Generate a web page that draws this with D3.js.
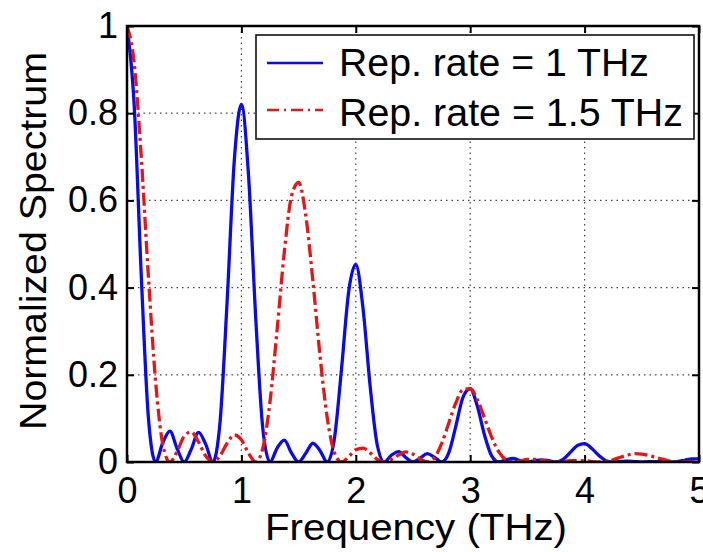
<!DOCTYPE html>
<html>
<head>
<meta charset="utf-8">
<script src="https://cdn.jsdelivr.net/npm/d3@7"></script>
<style>
body {margin: 0; background: #fff;}
svg {display: block;}
text {font-family: "Liberation Sans", Arial, Helvetica, sans-serif; fill: #000;}
</style>
</head>
<body>
<svg id="chart" width="703" height="552"></svg>
<script>
// frequency samples (THz)
var freq = [
	0, 0.0625, 0.125, 0.1875, 0.25, 0.3125, 0.375, 0.4375, 0.5, 0.5625, 0.625, 0.6875, 0.75, 0.8125, 0.875, 0.9375,
	1, 1.0625, 1.125, 1.1875, 1.25, 1.3125, 1.375, 1.4375, 1.5, 1.5625, 1.625, 1.6875, 1.75, 1.8125, 1.875, 1.9375,
	2, 2.0625, 2.125, 2.1875, 2.25, 2.3125, 2.375, 2.4375, 2.5, 2.5625, 2.625, 2.6875, 2.75, 2.8125, 2.875, 2.9375,
	3, 3.0625, 3.125, 3.1875, 3.25, 3.3125, 3.375, 3.4375, 3.5, 3.5625, 3.625, 3.6875, 3.75, 3.8125, 3.875, 3.9375,
	4, 4.0625, 4.125, 4.1875, 4.25, 4.3125, 4.375, 4.4375, 4.5, 4.5625, 4.625, 4.6875, 4.75, 4.8125, 4.875, 4.9375,
	5
];

// Rep. rate = 1 THz
var rep1 = [
	1.000, 0.820, 0.426, 0.100, 0, 0.044, 0.071, 0.031, 0, 0.030, 0.068, 0.041, 0, 0.089, 0.367, 0.690,
	0.820, 0.657, 0.332, 0.076, 0, 0.032, 0.050, 0.021, 0, 0.020, 0.043, 0.026, 0, 0.053, 0.213, 0.390,
	0.453, 0.354, 0.175, 0.039, 0, 0.016, 0.024, 0.010, 0, 0.009, 0.019, 0.011, 0, 0.021, 0.083, 0.149,
	0.168, 0.128, 0.062, 0.014, 0, 0.005, 0.008, 0.003, 0, 0.003, 0.005, 0.003, 0, 0.006, 0.022, 0.038,
	0.042, 0.031, 0.015, 0.003, 0, 0.001, 0.002, 0.001, 0, 0.001, 0.001, 0.001, 0, 0.001, 0.004, 0.007,
	0.007
];

// Rep. rate = 1.5 THz
var rep15 = [
	1.000, 0.916, 0.698, 0.424, 0.185, 0.041, 0, 0.024, 0.059, 0.069, 0.046, 0.014, 0, 0.014, 0.043, 0.062,
	0.051, 0.020, 0, 0.032, 0.138, 0.304, 0.481, 0.609, 0.641, 0.566, 0.415, 0.243, 0.102, 0.022, 0, 0.012,
	0.028, 0.032, 0.021, 0.006, 0, 0.006, 0.016, 0.023, 0.018, 0.007, 0, 0.010, 0.042, 0.089, 0.136, 0.166,
	0.168, 0.143, 0.101, 0.057, 0.023, 0.005, 0, 0.002, 0.006, 0.006, 0.004, 0.001, 0, 0.001, 0.003, 0.003,
	0.003, 0.001, 0, 0.001, 0.005, 0.011, 0.016, 0.019, 0.018, 0.015, 0.010, 0.006, 0.002, 0, 0, 0,
	0
];

var xTicks = [0, 1, 2, 3, 4, 5];
var yTicks = [0, 0.2, 0.4, 0.6, 0.8, 1];
var yTickLabels = ["0", "0.2", "0.4", "0.6", "0.8", "1"];
var seriesNames = ["Rep. rate = 1 THz", "Rep. rate = 1.5 THz"];
var seriesColors = ["#0b0bea", "#e81515"];

var svg = d3.select("#chart");
var x = d3.scaleLinear().domain([0, 5]).range([127, 699]);
var y = d3.scaleLinear().domain([0, 1]).range([462, 26]);

// dotted grid
var grid = svg.append("g").attr("stroke", "#444").attr("stroke-width", 1.2).attr("stroke-dasharray", "1.5,4");
grid.selectAll("line.gx").data(xTicks.slice(1, -1)).enter().append("line")
	.attr("x1", function(d) {return x(d)}).attr("x2", function(d) {return x(d)})
	.attr("y1", y(0)).attr("y2", y(1));
grid.selectAll("line.gy").data(yTicks.slice(1, -1)).enter().append("line")
	.attr("y1", function(d) {return y(d)}).attr("y2", function(d) {return y(d)})
	.attr("x1", x(0)).attr("x2", x(5));

// curves
svg.append("clipPath").attr("id", "plotclip").append("rect")
	.attr("x", x(0)).attr("y", y(1) - 3).attr("width", x(5) - x(0)).attr("height", y(0) - y(1) + 3);

var line = function(vals) {
	return d3.line()
		.x(function(d, i) {return x(freq[i])})
		.y(function(d) {return y(d)})
		.curve(d3.curveMonotoneX)(vals);
};
var curves = svg.append("g").attr("clip-path", "url(#plotclip)").attr("fill", "none");
curves.append("path").attr("d", line(rep1))
	.attr("stroke", seriesColors[0]).attr("stroke-width", 3.3).attr("stroke-linejoin", "round");
curves.append("path").attr("d", line(rep15))
	.attr("stroke", seriesColors[1]).attr("stroke-width", 3.3).attr("stroke-dasharray", "13,4,3,4");

// axes with inward ticks on all four sides
function styleAxis(g) {
	g.select(".domain").remove();
	g.selectAll(".tick line").attr("stroke", "#000").attr("stroke-width", 2);
	g.selectAll("text").style("font-size", "36px").attr("fill", "#000");
}
svg.append("g").attr("transform", "translate(0," + y(0) + ")")
	.call(d3.axisBottom(x).tickValues(xTicks).tickSize(-7).tickPadding(15).tickFormat(d3.format("d")))
	.call(styleAxis);
svg.append("g").attr("transform", "translate(0," + y(1) + ")")
	.call(d3.axisTop(x).tickValues(xTicks).tickSize(-7).tickFormat(""))
	.call(styleAxis);
svg.append("g").attr("transform", "translate(" + x(0) + ",0)")
	.call(d3.axisLeft(y).tickValues(yTicks).tickSize(-7).tickPadding(9)
		.tickFormat(function(d, i) {return yTickLabels[i]}))
	.call(styleAxis);
svg.append("g").attr("transform", "translate(" + x(5) + ",0)")
	.call(d3.axisRight(y).tickValues(yTicks).tickSize(-7).tickFormat(""))
	.call(styleAxis);

svg.append("rect").attr("x", x(0)).attr("y", y(1)).attr("width", x(5) - x(0)).attr("height", y(0) - y(1))
	.attr("fill", "none").attr("stroke", "#000").attr("stroke-width", 2.5);

// axis titles
svg.append("text").attr("x", 416).attr("y", 540).attr("text-anchor", "middle")
	.attr("textLength", 302).attr("lengthAdjust", "spacingAndGlyphs")
	.style("font-size", "37px").text("Frequency (THz)");
svg.append("text").attr("transform", "translate(46,241) rotate(-90)").attr("text-anchor", "middle")
	.attr("textLength", 378).attr("lengthAdjust", "spacingAndGlyphs")
	.style("font-size", "36px").text("Normalized Spectrum");

// legend
var legend = svg.append("g");
legend.append("rect").attr("x", 256).attr("y", 35).attr("width", 438).attr("height", 104)
	.attr("fill", "#fff").attr("stroke", "#111").attr("stroke-width", 1.6);
var rows = [{y: 63, base: 76, w: 310, dash: null}, {y: 110, base: 126, w: 344, dash: "12,5,2,5"}];
rows.forEach(function(r, i) {
	legend.append("line").attr("x1", 267).attr("x2", 323).attr("y1", r.y).attr("y2", r.y)
		.attr("stroke", seriesColors[i]).attr("stroke-width", 2.5)
		.attr("stroke-dasharray", r.dash);
	legend.append("text").attr("x", 339).attr("y", r.base)
		.attr("textLength", r.w).attr("lengthAdjust", "spacingAndGlyphs")
		.style("font-size", "38px").text(seriesNames[i]);
});
</script>
</body>
</html>
